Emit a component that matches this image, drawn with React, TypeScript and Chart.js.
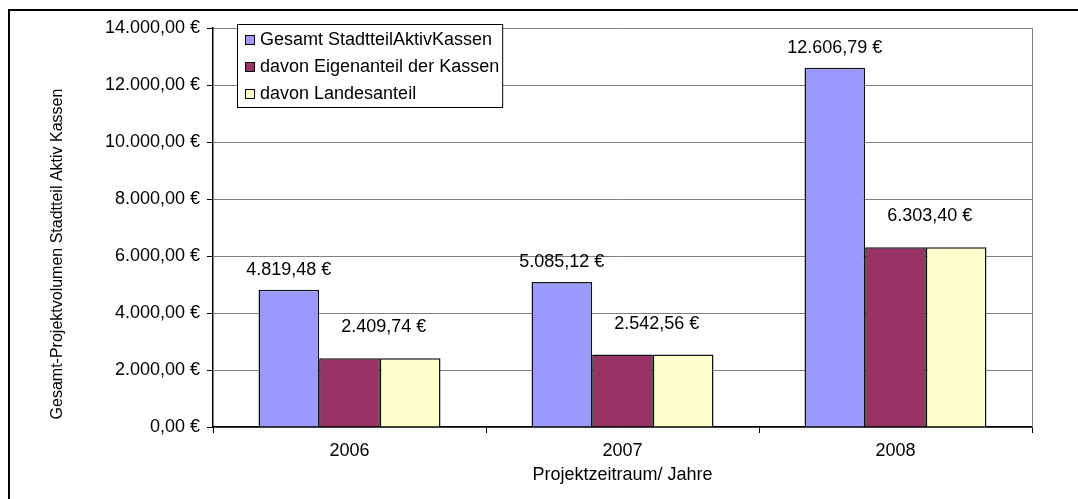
import React, { useEffect, useRef } from "react";
import { Chart, registerables } from "chart.js";

Chart.register(...registerables);

// ---- data ----
const categories = ["2006", "2007", "2008"];
const seriesNames = [
  "Gesamt StadtteilAktivKassen",
  "davon Eigenanteil der Kassen",
  "davon Landesanteil",
];
const gesamt = [4819.48, 5085.12, 12606.79];
const eigenanteil = [2409.74, 2542.56, 6303.4];
const landesanteil = [2409.74, 2542.56, 6303.39];
const yMin = 0;
const yMax = 14000;
const yStep = 2000;
const xTitle = "Projektzeitraum/ Jahre";
const yTitle = "Gesamt-Projektvolumen Stadtteil Aktiv Kassen";
const seriesColors = ["#9999FF", "#993366", "#FFFFCC"];

// ---- style ----
const FONT = '"Liberation Sans", Arial, Helvetica, sans-serif';
const FS = 18;

function euro(v: number): string {
  const fixed = Math.abs(v).toFixed(2);
  const [i, d] = fixed.split(".");
  const withDots = i.replace(/\B(?=(\d{3})+(?!\d))/g, ".");
  return (v < 0 ? "-" : "") + withDots + "," + d + " €";
}

const decor = {
  id: "decor",
  beforeDatasetsDraw(chart: any) {
    const { ctx, chartArea: a } = chart;
    ctx.save();
    ctx.strokeStyle = "#808080";
    ctx.lineWidth = 1;
    ctx.beginPath();
    ctx.moveTo(a.right + 0.5, a.top);
    ctx.lineTo(a.right + 0.5, a.bottom);
    ctx.stroke();
    ctx.restore();
  },
  afterDraw(chart: any) {
    const { ctx, chartArea: a } = chart;
    ctx.save();
    ctx.fillStyle = "#000";
    ctx.font = `${FS}px ${FONT}`;
    ctx.textBaseline = "middle";
    ctx.textAlign = "center";

    // data labels
    const m0 = chart.getDatasetMeta(0);
    m0.data.forEach((bar: any, i: number) => {
      ctx.fillText(euro(gesamt[i]), bar.x, bar.y - 20);
    });
    const m1 = chart.getDatasetMeta(1);
    m1.data.forEach((bar: any, i: number) => {
      ctx.fillText(euro(eigenanteil[i]), bar.x + bar.width / 2 + 4, bar.y - 31);
    });

    // axis titles
    ctx.fillText(xTitle, (a.left + a.right) / 2, 475);
    ctx.save();
    ctx.translate(58, 254);
    ctx.rotate(-Math.PI / 2);
    ctx.font = `16px ${FONT}`;
    ctx.fillText(yTitle, 0, 0);
    ctx.restore();

    // legend
    ctx.font = `${FS}px ${FONT}`;
    const bx = a.left + 24;
    const by = a.top - 4;
    let maxW = 0;
    seriesNames.forEach((n) => (maxW = Math.max(maxW, ctx.measureText(n).width)));
    const bw = 23 + maxW + 3;
    const bh = 83;
    ctx.fillStyle = "#fff";
    ctx.fillRect(bx, by, bw, bh);
    ctx.strokeStyle = "#000";
    ctx.lineWidth = 1;
    ctx.strokeRect(bx + 0.5, by + 0.5, bw, bh);
    ctx.textAlign = "left";
    seriesNames.forEach((n, i) => {
      const cy = by + 15 + i * 27;
      ctx.fillStyle = seriesColors[i];
      ctx.fillRect(bx + 8, cy - 4, 10, 10);
      ctx.strokeStyle = "#000";
      ctx.strokeRect(bx + 8.5, cy - 3.5, 9, 9);
      ctx.fillStyle = "#000";
      ctx.fillText(n, bx + 23, cy + 1);
    });
    ctx.restore();
  },
};

export default function App() {
  const ref = useRef<HTMLCanvasElement | null>(null);

  useEffect(() => {
    document.body.style.overflow = "hidden";
    if (!ref.current) return;
    const chart = new Chart(ref.current, {
      type: "bar",
      data: {
        labels: categories,
        datasets: [gesamt, eigenanteil, landesanteil].map((d, i) => ({
          label: seriesNames[i],
          data: d,
          backgroundColor: seriesColors[i],
          borderColor: "#111",
          borderWidth: 1.5,
          categoryPercentage: 2 / 3,
          barPercentage: 1,
        })),
      },
      options: {
        animation: false,
        responsive: false,
        events: [],
        layout: { padding: { left: 0, top: 28, right: 46, bottom: 0 } },
        plugins: { legend: { display: false }, tooltip: { enabled: false } },
        scales: {
          x: {
            offset: true,
            grid: {
              offset: true,
              drawOnChartArea: false,
              drawTicks: true,
              tickLength: 6,
              tickColor: "#000",
            },
            border: { color: "#000", width: 1.5 },
            ticks: { color: "#000", font: { family: FONT, size: FS }, padding: 7 },
            afterFit: (s: any) => {
              s.height = 72;
            },
          },
          y: {
            min: yMin,
            max: yMax,
            grid: { color: "#808080", tickLength: 6, tickColor: "#000" },
            border: { color: "#000", width: 1.5 },
            ticks: {
              stepSize: yStep,
              color: "#000",
              font: { family: FONT, size: FS },
              padding: 7,
              callback: (v: any) => euro(Number(v)),
            },
            afterFit: (s: any) => {
              s.width = 213;
            },
          },
        },
      },
      plugins: [decor],
    });
    return () => chart.destroy();
  }, []);

  return (
    <div
      style={{
        position: "fixed",
        left: 0,
        top: 0,
        width: 1078,
        height: 499,
        overflow: "hidden",
        background: "#fff",
      }}
    >
      <div
        style={{
          position: "absolute",
          left: 8,
          top: 9,
          width: 1200,
          height: 600,
          borderTop: "2px solid #000",
          borderLeft: "2px solid #000",
        }}
      />
      <canvas
        ref={ref}
        width={1078}
        height={499}
        style={{ position: "absolute", left: 0, top: 0, display: "block" }}
      />
    </div>
  );
}
